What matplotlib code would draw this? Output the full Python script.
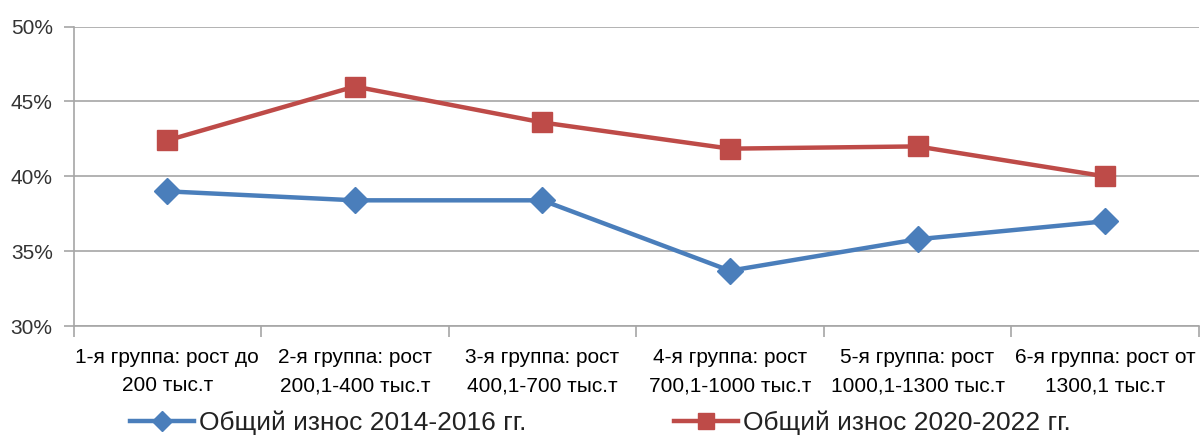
import numpy as np
import matplotlib.pyplot as plt
from matplotlib.ticker import FixedLocator, FuncFormatter

# categories and the two series (percent)
groups = ['1-я группа: рост до\n200 тыс.т',
          '2-я группа: рост\n200,1-400 тыс.т',
          '3-я группа: рост\n400,1-700 тыс.т',
          '4-я группа: рост\n700,1-1000 тыс.т',
          '5-я группа: рост\n1000,1-1300 тыс.т',
          '6-я группа: рост от\n1300,1 тыс.т']
wear_2014 = [39.0, 38.4, 38.4, 33.7, 35.8, 37.0]
wear_2020 = [42.4, 46.0, 43.6, 41.85, 42.0, 40.0]
label_2014 = 'Общий износ 2014-2016 гг.'
label_2020 = 'Общий износ 2020-2022 гг.'

plt.rcParams['font.family'] = ['Liberation Sans', 'DejaVu Sans']

fig = plt.figure(figsize=(12.01, 4.36), dpi=100)
ax = fig.add_axes([0.0612, 0.252, 0.937, 0.687])

x = np.arange(len(groups))
ax.plot(x, wear_2014, color='#4A7EBB', lw=3.2, marker='D', ms=13, label=label_2014, zorder=3)
ax.plot(x, wear_2020, color='#BE4B48', lw=3.2, marker='s', ms=15, label=label_2020, zorder=3)

ax.set_xlim(-0.5, len(groups) - 0.5)
ax.set_ylim(30, 50)
ax.set_yticks([30, 35, 40, 45, 50])
ax.yaxis.set_major_formatter(FuncFormatter(lambda v, p: f'{v:.0f}%'))
ax.grid(axis='y', color='#A6A6A6', lw=1.2)
ax.set_axisbelow(True)

ax.xaxis.set_major_locator(FixedLocator(np.arange(-0.5, len(groups), 1.0)))
ax.xaxis.set_major_formatter(FuncFormatter(lambda v, p: ''))
ax.xaxis.set_minor_locator(FixedLocator(x))
ax.set_xticklabels(groups, minor=True, fontsize=15, linespacing=1.6)
ax.tick_params(axis='x', which='major', length=8, color='#A6A6A6', width=1.2)
ax.tick_params(axis='x', which='minor', length=0, pad=16)
ax.tick_params(axis='y', length=7, color='#A6A6A6', width=1.2, labelsize=15,
               labelcolor='#333333', pad=8)
ax.tick_params(axis='x', labelcolor='#333333')

for s in ['top', 'right']:
    ax.spines[s].set_visible(False)
ax.spines['left'].set_color('#A6A6A6')
ax.spines['bottom'].set_color('#A6A6A6')
ax.spines['left'].set_linewidth(1.2)
ax.spines['bottom'].set_linewidth(1.2)

leg = fig.legend(loc='center', bbox_to_anchor=(0.5, 0.03), ncol=2, frameon=False,
                 fontsize=19, columnspacing=5.6, handlelength=2.4, handletextpad=0.2,
                 markerscale=0.8, borderpad=0)
for t in leg.get_texts():
    t.set_color('#222222')

fig.savefig('out.png', dpi=100)
